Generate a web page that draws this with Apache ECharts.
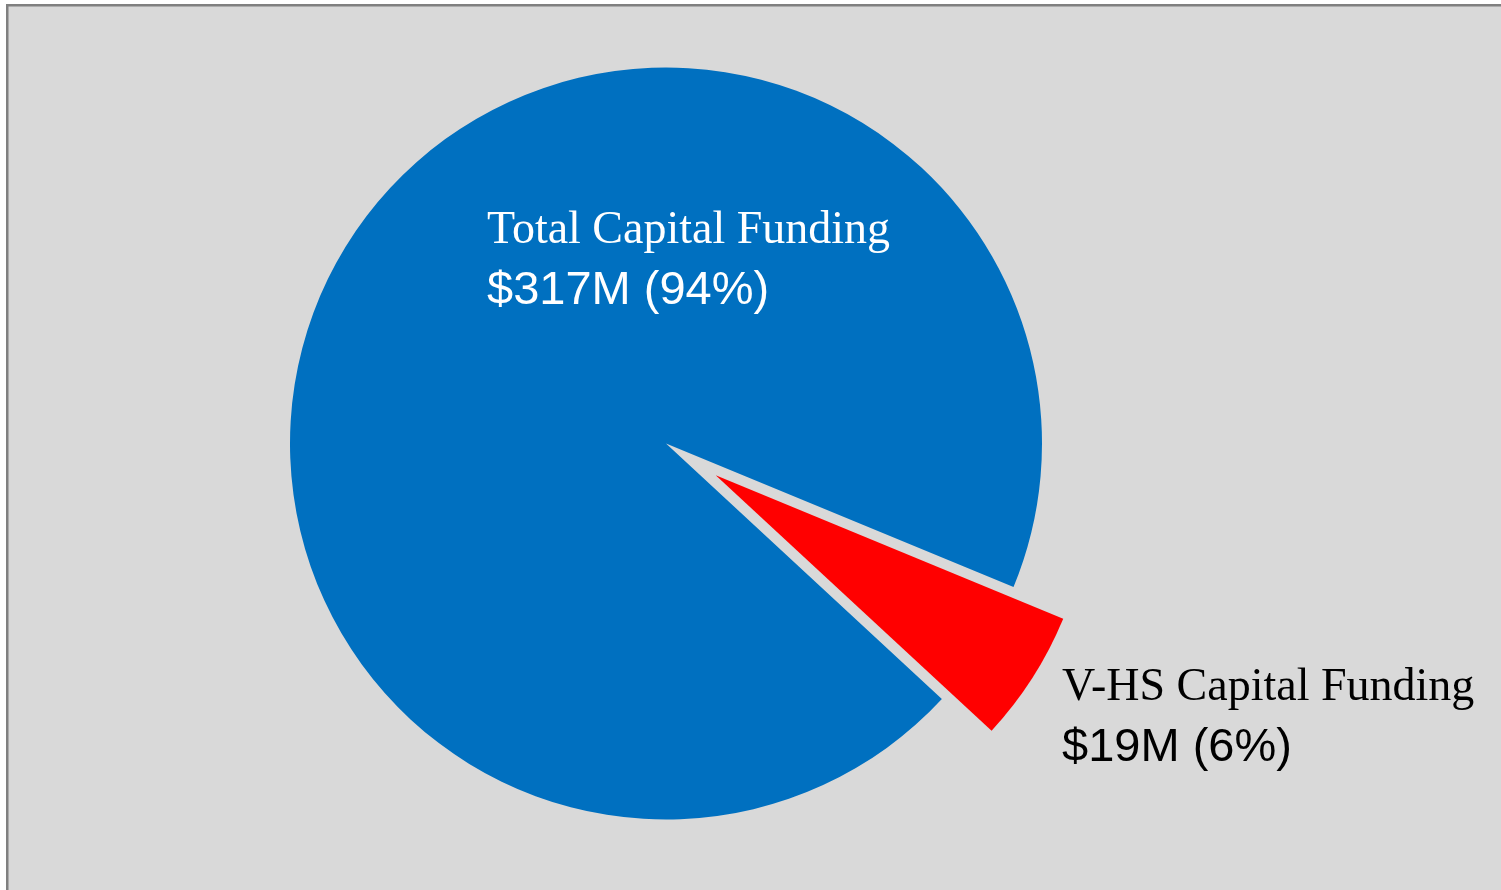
<!DOCTYPE html>
<html>
<head>
<meta charset="utf-8">
<script src="https://cdn.jsdelivr.net/npm/echarts@6/dist/echarts.min.js"></script>
<style>
  html, body { margin: 0; padding: 0; background: #ffffff; }
  #chart { width: 1501px; height: 890px; }
</style>
</head>
<body>
<div id="chart"></div>
<script>
const categories = ['Total Capital Funding', 'V-HS Capital Funding'];
const values = [317, 19];
const valuePrefix = '$';
const valueSuffix = 'M';

const chart = echarts.init(document.getElementById('chart'));

const labelPos = [
  { x: 487, y: 201 },
  { x: 1062, y: 658 }
];

const pieGeom = {
  center: [666, 443.5],
  radius: [0, 376],
  startAngle: -42.8,
  clockwise: true
};

const option = {
  animation: false,
  backgroundColor: '#ffffff',
  graphic: [{
    type: 'rect',
    z: -10,
    silent: true,
    shape: { x: 7.25, y: 5.25, width: 1600, height: 1000 },
    style: { fill: '#d9d9d9', stroke: '#808080', lineWidth: 2.5 }
  }],
  series: [{
    type: 'pie',
    center: pieGeom.center,
    radius: pieGeom.radius,
    startAngle: pieGeom.startAngle,
    clockwise: pieGeom.clockwise,
    selectedMode: 'single',
    selectedOffset: 59,
    avoidLabelOverlap: false,
    emphasis: { disabled: true },
    label: { show: false },
    labelLine: { show: false },
    itemStyle: { borderWidth: 0 },
    data: categories.map(function (name, i) {
      const item = { name: name, value: values[i] };
      if (i === 0) {
        item.itemStyle = { color: '#0070c0' };
      } else {
        item.itemStyle = { color: '#ff0000' };
        item.select = { itemStyle: { color: '#ff0000', borderWidth: 0 } };
        item.selected = true;
      }
      return item;
    })
  }, {
    // label layer for the same data (invisible sectors, labels only)
    type: 'pie',
    z: 5,
    silent: true,
    center: pieGeom.center,
    radius: pieGeom.radius,
    startAngle: pieGeom.startAngle,
    clockwise: pieGeom.clockwise,
    percentPrecision: 0,
    selectedMode: false,
    avoidLabelOverlap: false,
    emphasis: { disabled: true },
    labelLine: { show: false },
    itemStyle: { color: 'rgba(0,0,0,0)', borderWidth: 0 },
    label: {
      show: true,
      position: 'inside',
      formatter: function (p) {
        const s = p.dataIndex === 0 ? 'w' : 'b';
        return '{t' + s + '|' + p.name + '}\n{v' + s + '|' + valuePrefix + p.value + valueSuffix + ' (' + p.percent + '%)}';
      },
      rich: {
        tw: { fontFamily: 'Liberation Serif', fontSize: 46, lineHeight: 60, color: '#ffffff' },
        vw: { fontFamily: 'Liberation Sans', fontSize: 47, lineHeight: 60, color: '#ffffff' },
        tb: { fontFamily: 'Liberation Serif', fontSize: 46, lineHeight: 60, color: '#000000' },
        vb: { fontFamily: 'Liberation Sans', fontSize: 47, lineHeight: 60, color: '#000000' }
      }
    },
    labelLayout: function (params) {
      const p = labelPos[params.dataIndex];
      return { x: p.x, y: p.y, align: 'left', verticalAlign: 'top' };
    },
    data: categories.map(function (name, i) {
      return { name: name, value: values[i] };
    })
  }]
};

chart.setOption(option);
</script>
</body>
</html>
